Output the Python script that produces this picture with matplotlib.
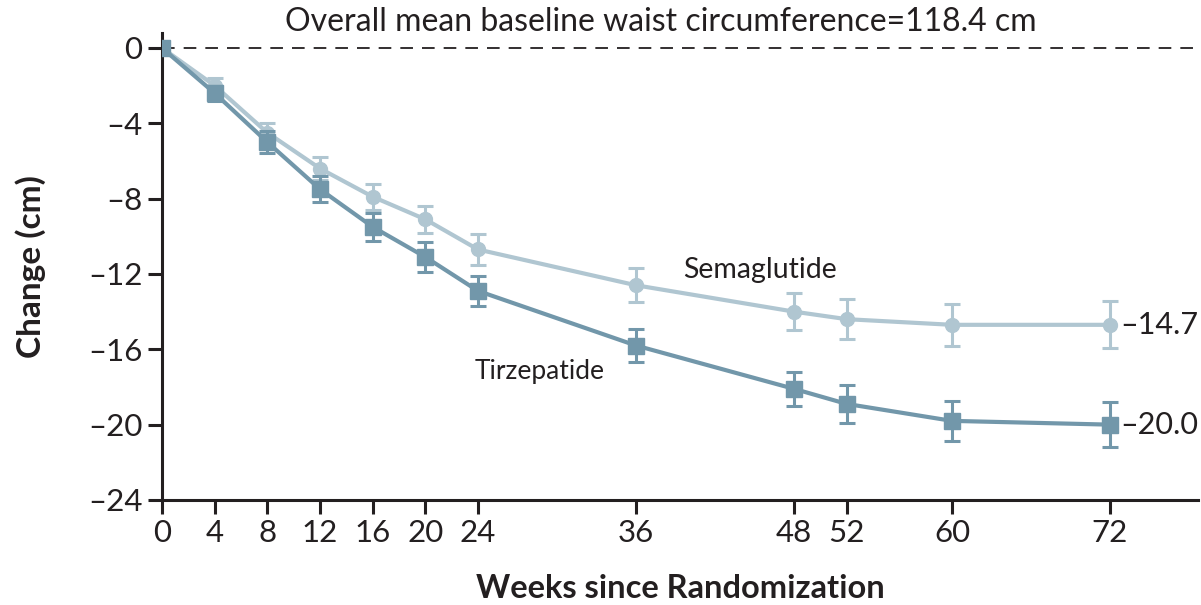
import matplotlib.pyplot as plt
import matplotlib.font_manager as fm

# data
weeks = [0, 4, 8, 12, 16, 20, 24, 36, 48, 52, 60, 72]
sema = [0, -2.0, -4.5, -6.4, -7.9, -9.1, -10.7, -12.6, -14.0, -14.4, -14.7, -14.7]
sema_err = [0, 0.4, 0.5, 0.6, 0.7, 0.7, 0.8, 0.9, 1.0, 1.05, 1.1, 1.25]
tirz = [0, -2.4, -5.0, -7.5, -9.5, -11.1, -12.9, -15.8, -18.1, -18.9, -19.8, -20.0]
tirz_err = [0, 0.4, 0.6, 0.7, 0.75, 0.8, 0.8, 0.9, 0.9, 1.0, 1.05, 1.2]
yticks = [0, -4, -8, -12, -16, -20, -24]
ytick_labels = ["0", "\u20134", "\u20138", "\u201312", "\u201316", "\u201320", "\u201324"]

names = {f.name for f in fm.fontManager.ttflist}
fam = "Liberation Sans Narrow" if "Liberation Sans Narrow" in names else "Lato"
plt.rcParams["font.family"] = [fam, "DejaVu Sans"]

ink = "#231f20"
light = "#b0c6d1"
dark = "#7297aa"

fig = plt.figure(figsize=(12.01, 6.05), dpi=100)
ax = fig.add_axes([0.1349, 0.1736, 0.8626, 0.772])

ax.axhline(0, color=ink, lw=1.3, dashes=(7, 5), zorder=1)

ax.errorbar(weeks, sema, yerr=sema_err, color=light, lw=3, marker="o", ms=10,
            capsize=6, capthick=2.2, elinewidth=2.2, zorder=3)
ax.errorbar(weeks, tirz, yerr=tirz_err, color=dark, lw=3, marker="s", ms=11,
            capsize=6, capthick=2.2, elinewidth=2.2, zorder=4)

ax.set_xlim(0, 78.68)
ax.set_ylim(-24, 0.8)
ax.set_xticks(weeks)
ax.set_xticklabels([str(w) for w in weeks])
ax.set_yticks(yticks)
ax.set_yticklabels(ytick_labels)

for s in ["top", "right"]:
    ax.spines[s].set_visible(False)
for s in ["left", "bottom"]:
    ax.spines[s].set_linewidth(2.2)
    ax.spines[s].set_color(ink)
ax.tick_params(length=10, width=2.2, color=ink, labelsize=22.5, labelcolor=ink, pad=4)

ax.set_xlabel("Weeks since Randomization", fontsize=23.5, fontweight="bold", color=ink, labelpad=19.5)
ax.set_ylabel("Change (cm)", fontsize=24, fontweight="bold", color=ink, labelpad=30)

ax.text(37.9, 1.4, "Overall mean baseline waist circumference=118.4 cm", fontsize=23,
        color=ink, ha="center", va="center", clip_on=False)
ax.text(45.4, -11.8, "Semaglutide", fontsize=20.5, color=ink, ha="center", va="center")
ax.text(28.7, -17.2, "Tirzepatide", fontsize=19, color=ink, ha="center", va="center")
ax.text(72.8, sema[-1], "\u201314.7", fontsize=22, color=ink, ha="left", va="center")
ax.text(72.8, tirz[-1], "\u201320.0", fontsize=22, color=ink, ha="left", va="center")

fig.savefig("out.png", dpi=100)
